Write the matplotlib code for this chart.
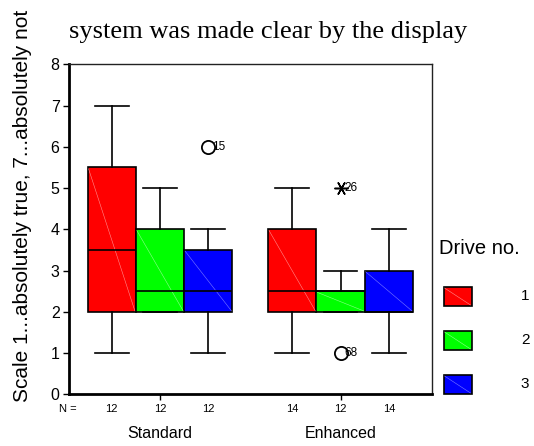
import matplotlib
matplotlib.use("Agg")
import matplotlib.pyplot as plt
from matplotlib.patches import Rectangle
from matplotlib.lines import Line2D

# ---- data ----
groups = ["Standard", "Enhanced"]
drives = ["1", "2", "3"]
colors = ["#ff0000", "#00ff00", "#0000ff"]
diag_colors = ["#ffb0b0", "#b0ffb0", "#9a9aff"]
# per box, order: Standard 1,2,3, Enhanced 1,2,3
whislo = [1, 2, 1, 1, 2, 1]
q1 = [2, 2, 2, 2, 2, 2]
med = [3.5, 2.5, 2.5, 2.5, 2.5, 2.0]
q3 = [5.5, 4, 3.5, 4, 2.5, 3]
whishi = [7, 5, 4, 5, 3, 4]
n_counts = [12, 12, 12, 14, 12, 14]
# outliers: (box index, value, case label, kind)
out_box = [2, 4, 4]
out_val = [6, 5, 1]
out_case = ["15", "26", "68"]
out_kind = ["o", "*", "o"]

group_centers = [0.0, 3.737]
offsets = [-1.0, 0.0, 1.0]
positions = [g + o for g in group_centers for o in offsets]

W, H = 534, 446
fig = plt.figure(figsize=(W / 100, H / 100), dpi=100)
ax = fig.add_axes([69.3 / W, 1 - 394.2 / H, (431.7 - 69.3) / W, (394.2 - 64.4) / H])

stats = []
for i in range(6):
    stats.append(dict(whislo=whislo[i], q1=q1[i], med=med[i], q3=q3[i],
                      whishi=whishi[i], fliers=[]))

bp = ax.bxp(stats, positions=positions, widths=1.0, patch_artist=True,
            showfliers=False, capwidths=0.70,
            boxprops=dict(linewidth=1.2, edgecolor="black"),
            medianprops=dict(color="black", linewidth=1.2),
            whiskerprops=dict(color="black", linewidth=1.2),
            capprops=dict(color="black", linewidth=1.2))
for i, box in enumerate(bp["boxes"]):
    box.set_facecolor(colors[i % 3])
    box.set_zorder(2)
    x0 = positions[i] - 0.5
    ax.plot([x0 + 0.02, x0 + 0.98], [q3[i] - 0.03, q1[i] + 0.02],
            color=diag_colors[i % 3], lw=0.4, alpha=0.8, zorder=2.5)
for m in bp["medians"]:
    m.set_zorder(3)

for b, v, c, k in zip(out_box, out_val, out_case, out_kind):
    x = positions[b]
    if k == "o":
        ax.plot(x, v, marker="o", ms=9.5, mfc="none", mec="black", mew=1.3, zorder=4)
    else:
        ax.plot(x, v, marker=(6, 2, 90), ms=10, mec="black", mew=1.1, zorder=4)
    ax.text(x + 0.08, v, c, fontsize=8.5, va="center", ha="left",
            family="Liberation Sans", zorder=5)

ax.set_xlim(-1.878, 5.625)
ax.set_ylim(0, 8)
ax.set_yticks(range(0, 9))
ax.set_yticklabels([str(i) for i in range(9)], fontsize=11.5, family="Liberation Sans")
ax.set_xticks(group_centers)
ax.set_xticklabels([])
ax.tick_params(axis="y", length=4, width=1, pad=3)
ax.tick_params(axis="x", length=4, width=1, direction="out")
ax.spines["left"].set_linewidth(2)
ax.spines["bottom"].set_linewidth(2)
ax.spines["top"].set_linewidth(1)
ax.spines["right"].set_linewidth(1)
ax.spines["top"].set_color("#222222")
ax.spines["right"].set_color("#222222")

# N labels
trans = ax.get_xaxis_transform()
for p, n in zip(positions, n_counts):
    ax.text(p, -0.045, str(n), transform=trans, ha="center", va="center",
            fontsize=8, family="Liberation Sans")
fig.text(67.5 / W, 1 - 409.3 / H, "N =", ha="center", va="center",
         fontsize=8, family="Liberation Sans")
for g, name in zip(group_centers, groups):
    ax.text(g, -0.118, name, transform=trans, ha="center", va="center",
            fontsize=11.5, family="Liberation Sans")

fig.text(268 / W, 1 - 32 / H, "system was made clear by the display",
         ha="center", va="center", fontsize=19, family="Liberation Serif")
fig.text(23 / W, 1 - 206 / H, "Scale 1...absolutely true, 7...absolutely not",
         rotation=90, ha="center", va="center", fontsize=15, family="Liberation Sans")

# legend
fig.text(439 / W, 1 - 248 / H, "Drive no.", ha="left", va="center",
         fontsize=14.5, family="Liberation Sans")
tops = [287, 331, 375]
for t, c, dc, lab in zip(tops, colors, diag_colors, drives):
    r = Rectangle((443.5 / W, 1 - (t + 19) / H), 28 / W, 19 / H, transform=fig.transFigure,
                  facecolor=c, edgecolor="black", linewidth=1.2)
    fig.add_artist(r)
    fig.add_artist(Line2D([444.5 / W, 470.5 / W], [1 - (t + 1) / H, 1 - (t + 18) / H],
                          transform=fig.transFigure, color=dc, lw=0.4, alpha=0.8))
    fig.text(525 / W, 1 - (t + 9.5) / H, lab, ha="center", va="center",
             fontsize=11, family="Liberation Sans")

fig.savefig("out.png", dpi=100)
